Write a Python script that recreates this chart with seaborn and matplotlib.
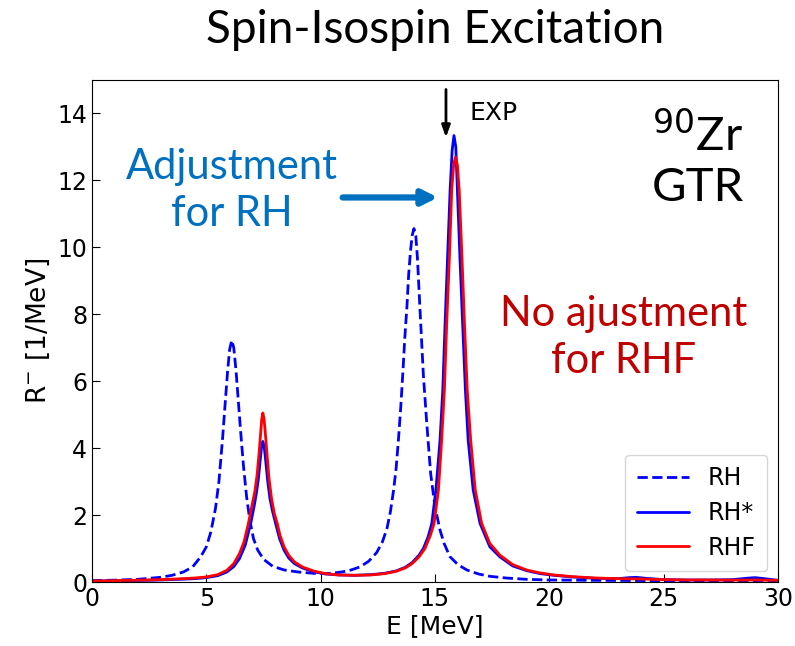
import numpy as np
import pandas as pd
import matplotlib
matplotlib.use("Agg")
import matplotlib.pyplot as plt
import seaborn as sns

# strength functions (E in MeV, R in 1/MeV)
e_rh = [0, 1, 2, 3, 3.5, 4.0, 4.4, 4.75, 5.0, 5.2, 5.4, 5.55, 5.7, 5.82, 5.93, 6.02,
        6.11, 6.2, 6.3, 6.4, 6.5, 6.62, 6.76, 6.9, 7.06, 7.25, 7.5, 7.9, 8.4, 9.0,
        9.68, 10.26, 10.7, 11.2, 11.72, 12.1, 12.45, 12.7, 12.9, 13.05, 13.19, 13.3,
        13.4, 13.5, 13.59, 13.68, 13.77, 13.85, 13.93, 14.0, 14.08, 14.16, 14.23,
        14.34, 14.49, 14.64, 14.81, 15.0, 15.22, 15.4, 15.65, 16.0, 16.39, 16.9,
        17.4, 18.1, 19, 20, 22, 25, 28, 30]
r_rh = [0.04, 0.055, 0.08, 0.14, 0.2, 0.3, 0.45, 0.75, 1.05, 1.5, 2.2, 3.0, 4.2, 5.3, 6.3, 6.95,
        7.22, 7.0, 6.3, 5.4, 4.5, 3.5, 2.55, 1.85, 1.3, 0.95, 0.68, 0.47, 0.36, 0.3,
        0.26, 0.25, 0.28, 0.33, 0.45, 0.62, 0.88, 1.2, 1.6, 2.1, 2.75, 3.4,
        4.24, 5.2, 6.2, 7.3, 8.2, 9.2, 9.9, 10.35, 10.56, 10.35, 9.7,
        8.2, 6.2, 4.74, 3.24, 2.25, 1.55, 1.15, 0.76, 0.52, 0.36, 0.24,
        0.17, 0.12, 0.08, 0.06, 0.05, 0.04, 0.035, 0.03]

e_rhs = [0, 1, 2, 3, 4, 4.5, 5, 5.5, 5.9, 6.2, 6.45, 6.7, 6.94, 7.1, 7.2, 7.28, 7.35,
         7.41, 7.47, 7.53, 7.6, 7.68, 7.78, 7.9, 8.05, 8.2, 8.4, 8.6, 8.85, 9.2,
         9.68, 10.2, 10.8, 11.5, 12.2, 12.8, 13.3, 13.7, 14.0, 14.3, 14.49, 14.7,
         14.86, 15.04, 15.22, 15.34, 15.44, 15.55, 15.66, 15.75, 15.83, 15.91,
         15.98, 16.09, 16.21, 16.33, 16.45, 16.67, 16.97, 17.4, 17.84, 18.4, 19.0,
         19.6, 20.2, 21, 22, 23, 23.5, 23.8, 24.2, 25, 26, 27, 28, 28.6, 29, 29.4, 30]
r_rhs = [0.03, 0.035, 0.045, 0.06, 0.085, 0.1, 0.13, 0.19, 0.3, 0.46, 0.7, 1.1, 1.75, 2.3, 2.7, 3.1, 3.6,
         4.0, 4.2, 4.05, 3.6, 3.04, 2.5, 2.1, 1.7, 1.3, 0.95, 0.72, 0.55, 0.42,
         0.31, 0.24, 0.21, 0.2, 0.22, 0.26, 0.33, 0.44, 0.58, 0.8, 1.0, 1.35,
         1.75, 2.75, 4.24, 5.73, 7.7, 9.7, 11.7, 12.9, 13.34, 13.0,
         11.7, 9.7, 7.7, 5.73, 4.24, 2.75, 1.75, 1.05, 0.75, 0.48, 0.34,
         0.25, 0.2, 0.15, 0.11, 0.1, 0.13, 0.14, 0.11, 0.07, 0.06, 0.06, 0.07, 0.11, 0.13, 0.1, 0.05]

e_rhf = [0, 1, 2, 3, 4, 4.5, 5, 5.5, 5.9, 6.2, 6.45, 6.65, 6.84, 7.0, 7.12, 7.22, 7.3,
         7.37, 7.42, 7.47, 7.52, 7.58, 7.65, 7.74, 7.85, 7.97, 8.1, 8.22, 8.4, 8.6,
         8.85, 9.2, 9.68, 10.2, 10.8, 11.5, 12.2, 12.8, 13.3, 13.7, 14.0, 14.3, 14.56,
         14.8, 14.96, 15.15, 15.29, 15.41, 15.51, 15.63, 15.73, 15.82, 15.9, 15.98,
         16.06, 16.18, 16.29, 16.41, 16.56, 16.76, 17.04, 17.4, 17.84, 18.4, 19.0,
         19.6, 20.2, 21, 22, 23, 24, 25, 26, 27, 28, 29, 30]
r_rhf = [0.03, 0.04, 0.055, 0.07, 0.1, 0.12, 0.15, 0.22, 0.35, 0.55, 0.85, 1.2, 1.75, 2.3, 2.7, 3.2, 3.8,
         4.4, 4.85, 5.05, 4.9, 4.45, 3.85, 3.1, 2.5, 2.05, 1.75, 1.4, 1.05, 0.8,
         0.6, 0.45, 0.33, 0.25, 0.21, 0.2, 0.21, 0.25, 0.32, 0.42, 0.55, 0.75, 1.0,
         1.4, 1.75, 2.75, 4.24, 5.73, 7.7, 9.7, 11.7, 12.5, 12.7, 12.45,
         11.7, 9.7, 7.7, 5.73, 4.24, 2.75, 1.75, 1.15, 0.8, 0.52, 0.36,
         0.27, 0.21, 0.16, 0.12, 0.1, 0.09, 0.07, 0.06, 0.06, 0.055, 0.06, 0.05]

df_rh = pd.DataFrame({"E": e_rh, "R": r_rh})
df_rhs = pd.DataFrame({"E": e_rhs, "R": r_rhs})
df_rhf = pd.DataFrame({"E": e_rhf, "R": r_rhf})

sns.set_style("ticks", {"axes.edgecolor": "black", "xtick.color": "black",
                        "ytick.color": "black", "text.color": "black",
                        "axes.labelcolor": "black"})
plt.rcParams["font.family"] = ["DejaVu Sans"]

fig = plt.figure(figsize=(7.95, 6.46), dpi=100)
ax = fig.add_axes([92 / 795, 1 - 582 / 646, 686 / 795, 502 / 646])

sns.lineplot(data=df_rh, x="E", y="R", ax=ax, color="blue", linestyle="--", lw=2, label="RH")
sns.lineplot(data=df_rhs, x="E", y="R", ax=ax, color="blue", lw=2, label="RH*")
sns.lineplot(data=df_rhf, x="E", y="R", ax=ax, color="red", lw=2, label="RHF")

ax.set_xlim(0, 30)
ax.set_ylim(0, 15)
ax.set_xticks([0, 5, 10, 15, 20, 25, 30])
ax.set_yticks([0, 2, 4, 6, 8, 10, 12, 14])
ax.tick_params(direction="in", labelsize=17, length=6, colors="black")
ax.set_xlabel("E [MeV]", fontsize=18, labelpad=2)
ax.set_ylabel("R$^{-}$ [1/MeV]", fontsize=19, labelpad=4)

ax.legend(loc="lower right", fontsize=17, handlelength=2.2, borderpad=0.5,
          labelspacing=0.45, borderaxespad=0.45)

# annotations
fig.text(435 / 795, 1 - 30 / 646, "Spin-Isospin Excitation", ha="center", va="center",
         fontsize=33, family="Lato")
ax.text(6.12, 11.7, "Adjustment\nfor RH", color="#0070C0", fontsize=30, family="Lato",
        ha="center", va="center", linespacing=1.3)
ax.annotate("", xy=(15.25, 11.49), xytext=(10.84, 11.49),
            arrowprops=dict(arrowstyle="-|>,head_length=0.9,head_width=0.45",
                            color="#0070C0", lw=4.5))
ax.text(23.26, 7.3, "No ajustment\nfor RHF", color="#C00000", fontsize=30, family="Lato",
        ha="center", va="center", linespacing=1.3)
ax.text(26.5, 12.6, "$^{90}$Zr\nGTR", color="black", fontsize=34, family="Lato",
        ha="center", va="center", linespacing=1.25)
ax.annotate("", xy=(15.48, 13.2), xytext=(15.48, 14.8),
            arrowprops=dict(arrowstyle="-|>,head_length=0.7,head_width=0.25",
                            color="black", lw=2))
ax.text(16.5, 14.0, "EXP", fontsize=18, ha="left", va="center")

fig.savefig("out.png", dpi=100)
